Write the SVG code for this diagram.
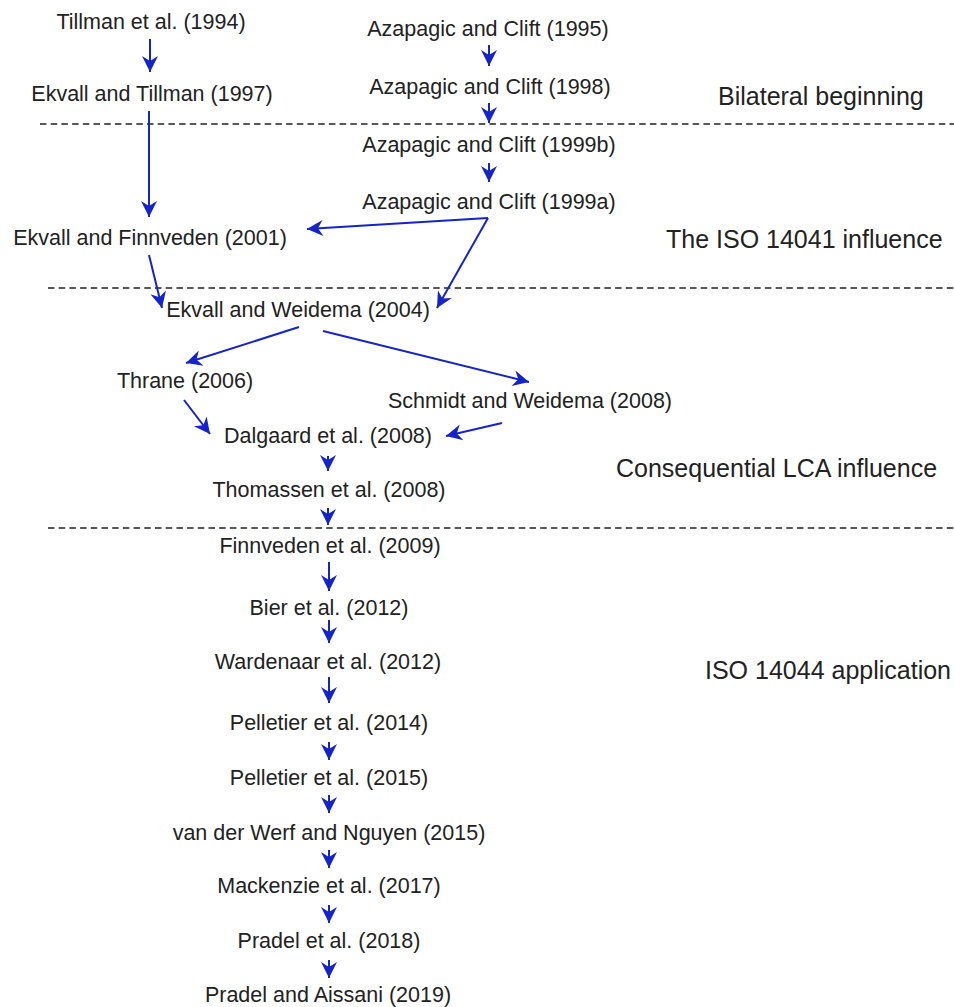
<svg xmlns="http://www.w3.org/2000/svg" width="954" height="1007" viewBox="0 0 954 1007">
<defs>
<style>
.t{font-family:"Liberation Sans",Arial,sans-serif;font-size:21.5px;fill:#222;text-anchor:middle}
.s{font-family:"Liberation Sans",Arial,sans-serif;font-size:25px;fill:#222}
.d{stroke:#222;stroke-width:1.6;stroke-dasharray:6.5 4.2;fill:none}
.c{stroke:#1424c8;stroke-width:2;fill:none;marker-end:url(#ah)}
</style>
<marker id="ah" viewBox="-17 -9 18 18" refX="0" refY="0" markerWidth="18" markerHeight="18" orient="auto" markerUnits="userSpaceOnUse">
<path d="M0,0 L-16,-8 L-11,0 L-16,8 Z" fill="#1424c8"/>
</marker>
</defs>
<rect width="954" height="1007" fill="#fff"/>
<g id="separators">
<line class="d" x1="40" y1="124" x2="954" y2="124"/>
<line class="d" x1="48" y1="288" x2="954" y2="288"/>
<line class="d" x1="48" y1="528" x2="954" y2="528"/>
</g>
<g id="phases">
<text class="s" x="718" y="105">Bilateral beginning</text>
<text class="s" x="666" y="248">The ISO 14041 influence</text>
<text class="s" x="616" y="477">Consequential LCA influence</text>
<text class="s" x="705" y="679">ISO 14044 application</text>
</g>
<g id="connectors">
<line class="c" x1="150" y1="39" x2="150" y2="72"/>
<line class="c" x1="149" y1="111" x2="149" y2="217"/>
<line class="c" x1="489" y1="45" x2="489" y2="66"/>
<line class="c" x1="489" y1="103" x2="489" y2="123"/>
<line class="c" x1="489" y1="163" x2="489" y2="182"/>
<line class="c" x1="488" y1="218" x2="307" y2="229"/>
<line class="c" x1="488" y1="218" x2="437" y2="308"/>
<line class="c" x1="149" y1="255" x2="162" y2="308"/>
<line class="c" x1="299" y1="327" x2="186" y2="363"/>
<line class="c" x1="323" y1="331" x2="529" y2="382"/>
<line class="c" x1="184" y1="400" x2="210" y2="434"/>
<line class="c" x1="502" y1="423" x2="446" y2="436"/>
<line class="c" x1="328" y1="456" x2="328" y2="471"/>
<line class="c" x1="328" y1="508" x2="328" y2="525"/>
<line class="c" x1="329" y1="562" x2="329" y2="591"/>
<line class="c" x1="329" y1="620" x2="329" y2="643"/>
<line class="c" x1="329" y1="677" x2="329" y2="703"/>
<line class="c" x1="329" y1="742" x2="329" y2="760"/>
<line class="c" x1="329" y1="795" x2="329" y2="813"/>
<line class="c" x1="329" y1="850" x2="329" y2="868"/>
<line class="c" x1="329" y1="905" x2="329" y2="923"/>
<line class="c" x1="329" y1="960" x2="329" y2="978"/>
</g>
<g id="n-tillman1994"><text class="t" x="151" y="29">Tillman et al. (1994)</text></g>
<g id="n-ekvall-tillman1997"><text class="t" x="152" y="101">Ekvall and Tillman (1997)</text></g>
<g id="n-azapagic1995"><text class="t" x="488" y="36">Azapagic and Clift (1995)</text></g>
<g id="n-azapagic1998"><text class="t" x="490" y="94">Azapagic and Clift (1998)</text></g>
<g id="n-azapagic1999b"><text class="t" x="489" y="152">Azapagic and Clift (1999b)</text></g>
<g id="n-azapagic1999a"><text class="t" x="489" y="209">Azapagic and Clift (1999a)</text></g>
<g id="n-ekvall-finnveden2001"><text class="t" x="150" y="245">Ekvall and Finnveden (2001)</text></g>
<g id="n-ekvall-weidema2004"><text class="t" x="298" y="317">Ekvall and Weidema (2004)</text></g>
<g id="n-thrane2006"><text class="t" x="185" y="388">Thrane (2006)</text></g>
<g id="n-schmidt-weidema2008"><text class="t" x="530" y="408">Schmidt and Weidema (2008)</text></g>
<g id="n-dalgaard2008"><text class="t" x="328" y="443">Dalgaard et al. (2008)</text></g>
<g id="n-thomassen2008"><text class="t" x="329" y="497">Thomassen et al. (2008)</text></g>
<g id="n-finnveden2009"><text class="t" x="330" y="553">Finnveden et al. (2009)</text></g>
<g id="n-bier2012"><text class="t" x="329" y="615">Bier et al. (2012)</text></g>
<g id="n-wardenaar2012"><text class="t" x="328" y="669">Wardenaar et al. (2012)</text></g>
<g id="n-pelletier2014"><text class="t" x="329" y="730">Pelletier et al. (2014)</text></g>
<g id="n-pelletier2015"><text class="t" x="329" y="785">Pelletier et al. (2015)</text></g>
<g id="n-vanderwerf2015"><text class="t" x="329" y="840">van der Werf and Nguyen (2015)</text></g>
<g id="n-mackenzie2017"><text class="t" x="329" y="893">Mackenzie et al. (2017)</text></g>
<g id="n-pradel2018"><text class="t" x="329" y="948">Pradel et al. (2018)</text></g>
<g id="n-pradel-aissani2019"><text class="t" x="328" y="1002">Pradel and Aissani (2019)</text></g>
</svg>
